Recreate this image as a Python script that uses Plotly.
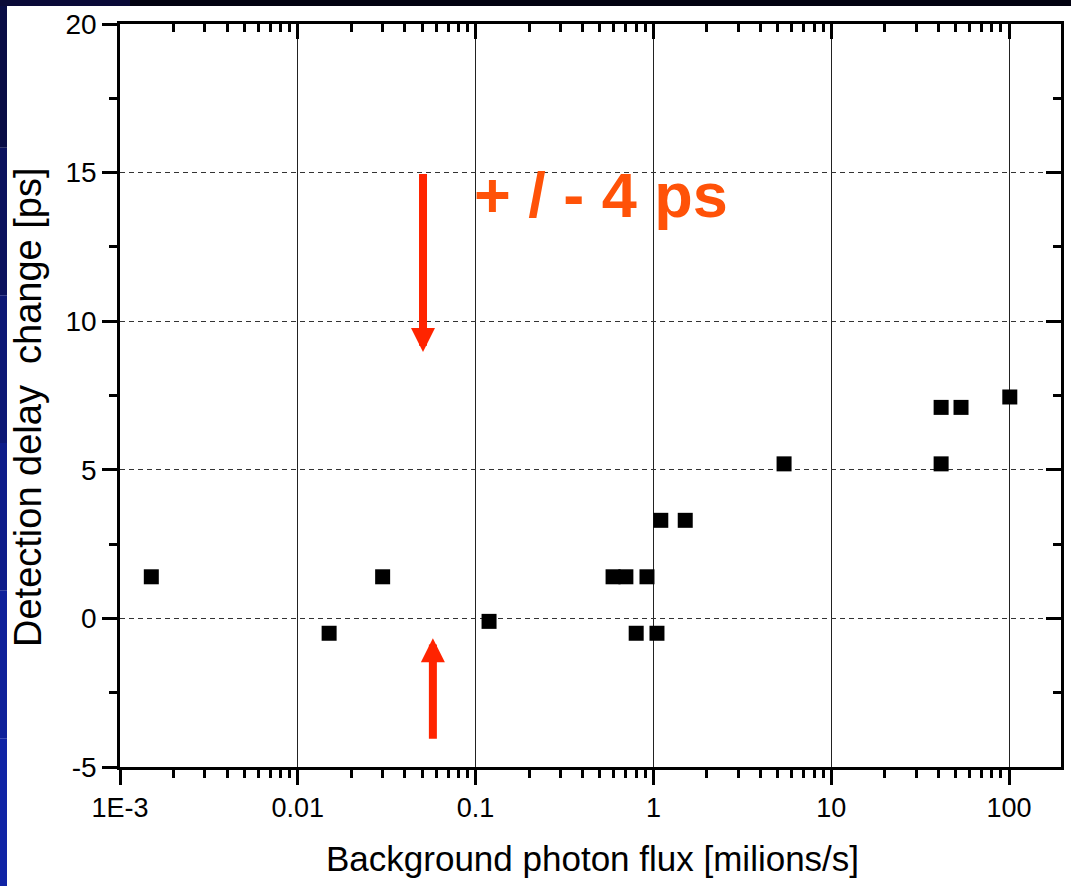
import math
import plotly.graph_objects as go

# ---- data ----
flux = [0.0015, 0.015, 0.030, 0.119, 0.593, 0.70, 0.92, 0.80, 1.047, 1.10, 1.51, 5.43, 41.5, 41.5, 53.7, 101.0]
delay = [1.4, -0.5, 1.4, -0.1, 1.4, 1.4, 1.4, -0.5, -0.5, 3.3, 3.3, 5.2, 5.2, 7.1, 7.1, 7.45]

x_tickvals = [0.001, 0.01, 0.1, 1, 10, 100]
x_ticktext = ["1E-3", "0.01", "0.1", "1", "10", "100"]
y_tickvals = [-5, 0, 5, 10, 15, 20]
y_ticktext = ["-5", "0", "5", "10", "15", "20"]

x_title = "Background photon flux [milions/s]"
y_title = "Detection delay\u00a0\u00a0change [ps]"
note_text = "+ / - 4 ps"

arrow_down = {"x": 0.0506, "y_from": 15.0, "y_to": 8.96}
arrow_up = {"x": 0.0575, "y_from": -4.1, "y_to": -0.67}

x_range = [0.001, 196.0]
y_range = [-5, 20]

FONT = "Arial, Liberation Sans, sans-serif"
minor_x = [m * 10.0 ** e for e in range(-3, 3) for m in range(2, 10) if m * 10.0 ** e < x_range[1]]

fig = go.Figure()
fig.add_trace(go.Scatter(
    x=flux, y=delay, mode="markers",
    marker=dict(symbol="square", size=15, color="black", line=dict(width=0)),
    showlegend=False, xaxis="x", yaxis="y",
))
# invisible trace to activate mirror axes
fig.add_trace(go.Scatter(x=[flux[0]], y=[delay[0]], mode="markers",
                         marker=dict(opacity=0), showlegend=False,
                         xaxis="x2", yaxis="y2", hoverinfo="skip"))

lr = [math.log10(x_range[0]), math.log10(x_range[1])]
fig.update_layout(
    width=1071, height=886,
    margin=dict(l=120, r=10, t=24, b=119, autoexpand=False),
    paper_bgcolor="white", plot_bgcolor="white",
    font=dict(family=FONT, color="black"),
    xaxis=dict(
        type="log", range=lr,
        tickmode="array", tickvals=x_tickvals, ticktext=x_ticktext,
        ticks="outside", ticklen=15, tickwidth=2.5, tickcolor="black",
        tickfont=dict(size=27, family=FONT, color="black"),
        showline=True, linewidth=2.5, linecolor="black",
        showgrid=True, gridcolor="#222222", gridwidth=1.4,
        minor=dict(tickmode="array", tickvals=minor_x, ticks="outside",
                   ticklen=8, tickwidth=2.5, tickcolor="black", showgrid=False),
        zeroline=False,
    ),
    xaxis2=dict(
        type="log", range=lr, overlaying="x", side="top",
        tickmode="array", tickvals=x_tickvals, showticklabels=False,
        ticks="inside", ticklen=15, tickwidth=2.5, tickcolor="black",
        showline=True, linewidth=2.5, linecolor="black", showgrid=False,
        minor=dict(tickmode="array", tickvals=minor_x, ticks="inside",
                   ticklen=8, tickwidth=2.5, tickcolor="black", showgrid=False),
        zeroline=False,
    ),
    yaxis=dict(
        range=y_range, tickmode="array", tickvals=y_tickvals, ticktext=y_ticktext,
        ticks="outside", ticklen=15, tickwidth=2.5, tickcolor="black",
        tickfont=dict(size=28, family=FONT, color="black"),
        showline=True, linewidth=2.5, linecolor="black",
        showgrid=True, gridcolor="#333333", gridwidth=1.3, griddash="5px,4px",
        minor=dict(dtick=2.5, ticks="outside", ticklen=8, tickwidth=2.5,
                   tickcolor="black", showgrid=False),
        zeroline=False,
    ),
    yaxis2=dict(
        range=y_range, overlaying="y", side="right",
        tickmode="array", tickvals=y_tickvals, showticklabels=False,
        ticks="inside", ticklen=15, tickwidth=2.5, tickcolor="black",
        showline=True, linewidth=2.5, linecolor="black", showgrid=False,
        minor=dict(dtick=2.5, ticks="inside", ticklen=8, tickwidth=2.5,
                   tickcolor="black", showgrid=False),
        zeroline=False,
    ),
)

# slide background strips (left blue gradient, top dark band)
W, H, L, T, B = 1071, 886, 120, 24, 119
pw, ph = W - L - 10, H - T - B
def px2paper_x(p):
    return (p - L) / pw
def px2paper_y(p):
    return (H - B - p) / ph

left_cols = ["#080c45", "#0b125e", "#0d1875", "#0e1d8a", "#0f219a", "#1024a5"]
n = len(left_cols)
for i, c in enumerate(left_cols):
    fig.add_shape(type="rect", xref="paper", yref="paper",
                  x0=px2paper_x(0), x1=px2paper_x(7),
                  y0=px2paper_y(H * (i + 1) / n), y1=px2paper_y(H * i / n),
                  fillcolor=c, line=dict(width=0), layer="above")
fig.add_shape(type="rect", xref="paper", yref="paper",
              x0=px2paper_x(0), x1=px2paper_x(W),
              y0=px2paper_y(6), y1=px2paper_y(0),
              fillcolor="#020210", line=dict(width=0), layer="above")
fig.add_shape(type="rect", xref="paper", yref="paper",
              x0=px2paper_x(0), x1=px2paper_x(130),
              y0=px2paper_y(6), y1=px2paper_y(0),
              fillcolor="#0a0a38", line=dict(width=0), layer="above")

# axis titles
fig.add_annotation(text=x_title, xref="paper", yref="paper",
                   x=px2paper_x(592), y=px2paper_y(858),
                   xanchor="center", yanchor="middle", showarrow=False,
                   font=dict(size=35, family=FONT, color="black"))
fig.add_annotation(text=y_title, xref="paper", yref="paper",
                   x=px2paper_x(28), y=px2paper_y(407), textangle=-90,
                   xanchor="center", yanchor="middle", showarrow=False,
                   font=dict(size=38, family=FONT, color="black"))

# "+ / - 4 ps" note
fig.add_annotation(text="<b>" + note_text + "</b>", xref="x", yref="y",
                   x=math.log10(0.0506) + (601 - 423) / 177.8, y=14.24,
                   xanchor="center", yanchor="middle", showarrow=False,
                   font=dict(size=63, family=FONT, color="#ff5208"))

# red arrows
for a in (arrow_down, arrow_up):
    lx = math.log10(a["x"])
    fig.add_annotation(text="", xref="x", yref="y", axref="x", ayref="y",
                       x=lx, y=a["y_to"], ax=lx, ay=a["y_from"],
                       showarrow=True, arrowhead=2, arrowsize=0.6,
                       arrowwidth=8, arrowcolor="#ff2400", standoff=0)

fig.write_html("out.html", config={"displayModeBar": False},
               post_script="document.body.style.margin='0';document.body.style.overflow='hidden';")
